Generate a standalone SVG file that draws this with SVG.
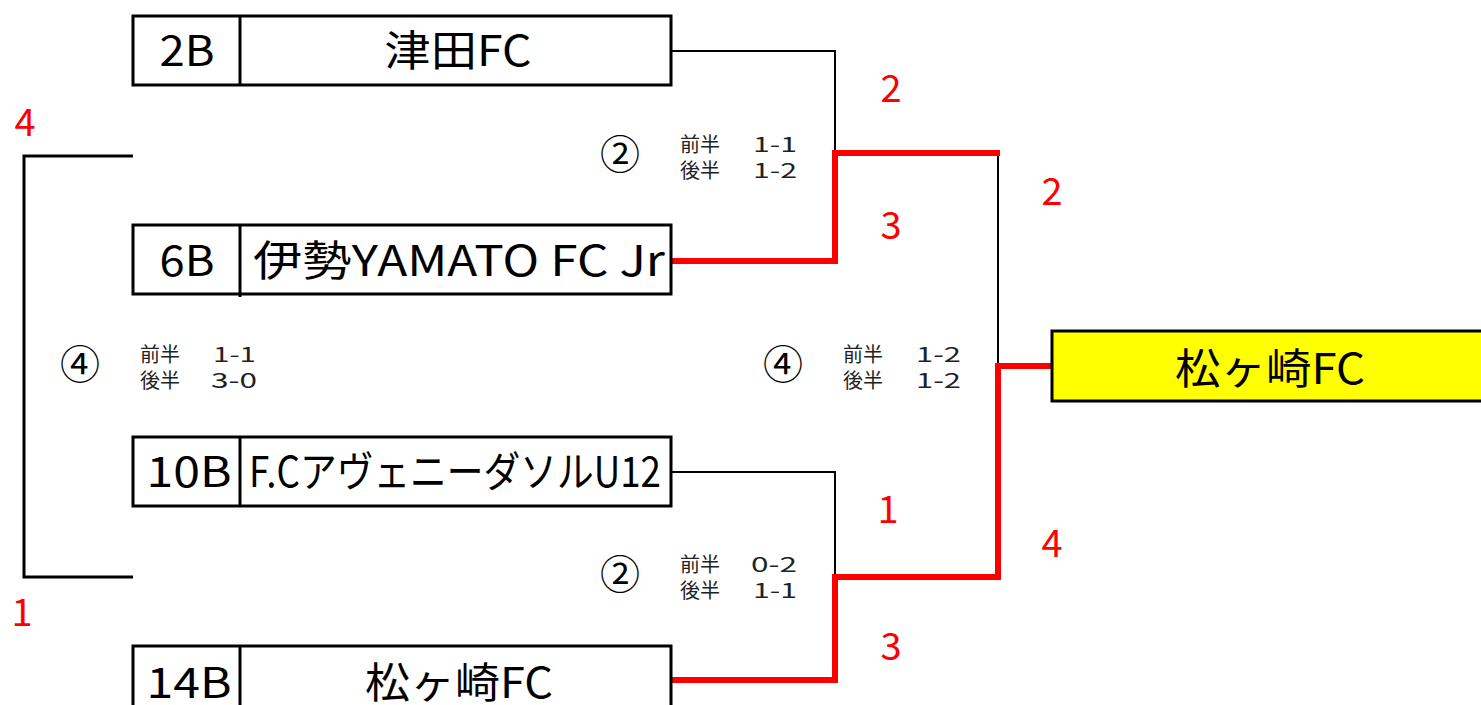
<svg xmlns="http://www.w3.org/2000/svg" width="1481" height="705" viewBox="0 0 1481 705">
<style>
.box{fill:#fff;stroke:#000;stroke-width:3}
.fin{fill:#ffff00;stroke:#000;stroke-width:3}
.div{stroke:#000;stroke-width:3}
.t{font-family:"Noto Sans CJK JP","Noto Sans",sans-serif;font-size:42px;fill:#000;text-anchor:middle}
.sc{font-family:"Noto Sans CJK JP","Noto Sans",sans-serif;font-size:20px;fill:#222}
.rn{font-family:"Noto Sans CJK JP","Noto Sans",sans-serif;font-size:38px;fill:#ff0000;text-anchor:middle}
.cn{font-family:"Noto Sans CJK JP","Noto Sans",sans-serif;font-size:40px;fill:#000;text-anchor:middle}
.bl{fill:none;stroke:#000;stroke-width:2}
.bk{fill:none;stroke:#000;stroke-width:3}
.rd{fill:none;stroke:#ff0000;stroke-width:6}
</style>
<rect width="1481" height="705" fill="#fff"/>
<g id="connectors">
<polyline class="bl" points="671,51 835,51 835,153"/>
<polyline class="bl" points="835,153 998,153 998,366"/>
<polyline class="bl" points="671,472 835,472 835,577"/>
<polyline class="bk" points="133,156 24,156 24,577 133,577"/>
<polyline class="rd" points="671,261 835,261 835,153 1000,153"/>
<polyline class="rd" points="671,680 835,680 835,577 998,577 998,366 1052,366"/>
</g>
<g id="node-2B">
<rect class="box" x="133" y="16" width="538" height="69"/>
<line class="div" x1="240" y1="16" x2="240" y2="85"/>
<text class="t" x="187" y="66" textLength="55" lengthAdjust="spacingAndGlyphs">2B</text>
<text class="t" x="458" y="66" textLength="147" lengthAdjust="spacingAndGlyphs">津田FC</text>
</g>
<g id="node-6B">
<rect class="box" x="133" y="225" width="538" height="69"/>
<line class="div" x1="240" y1="225" x2="240" y2="297"/>
<text class="t" x="187" y="276" textLength="55" lengthAdjust="spacingAndGlyphs">6B</text>
<text class="t" x="459" y="276" textLength="412" lengthAdjust="spacingAndGlyphs">伊勢YAMATO FC Jr</text>
</g>
<g id="node-10B">
<rect class="box" x="133" y="437" width="538" height="69"/>
<line class="div" x1="240" y1="437" x2="240" y2="506"/>
<text class="t" x="189" y="487" textLength="85" lengthAdjust="spacingAndGlyphs">10B</text>
<text class="t" x="455" y="487" textLength="412" lengthAdjust="spacingAndGlyphs">F.CアヴェニーダソルU12</text>
</g>
<g id="node-14B">
<rect class="box" x="133" y="646" width="538" height="69"/>
<line class="div" x1="240" y1="646" x2="240" y2="715"/>
<text class="t" x="189" y="698" textLength="85" lengthAdjust="spacingAndGlyphs">14B</text>
<text class="t" x="459" y="698" textLength="188" lengthAdjust="spacingAndGlyphs">松ヶ崎FC</text>
</g>
<g id="node-final">
<rect class="fin" x="1052" y="331" width="440" height="70"/>
<text class="t" x="1270" y="384" textLength="190" lengthAdjust="spacingAndGlyphs">松ヶ崎FC</text>
</g>
<g id="labels">
<text class="rn" x="25" y="136">4</text>
<text class="rn" x="22" y="626">1</text>
<text class="rn" x="891" y="102">2</text>
<text class="rn" x="891" y="239">3</text>
<text class="rn" x="1052" y="205">2</text>
<text class="rn" x="888" y="523">1</text>
<text class="rn" x="1052" y="557">4</text>
<text class="rn" x="891" y="660">3</text>
<text class="cn" x="620" y="169">②</text>
<text class="cn" x="80" y="379">④</text>
<text class="cn" x="783" y="379">④</text>
<text class="cn" x="620" y="589">②</text>
<text class="sc" x="680" y="152">前半<tspan x="753" textLength="44" lengthAdjust="spacingAndGlyphs">1-1</tspan></text>
<text class="sc" x="680" y="178">後半<tspan x="753" textLength="44" lengthAdjust="spacingAndGlyphs">1-2</tspan></text>
<text class="sc" x="140" y="362">前半<tspan x="213" textLength="43" lengthAdjust="spacingAndGlyphs">1-1</tspan></text>
<text class="sc" x="140" y="388">後半<tspan x="211" textLength="46" lengthAdjust="spacingAndGlyphs">3-0</tspan></text>
<text class="sc" x="843" y="362">前半<tspan x="916" textLength="45" lengthAdjust="spacingAndGlyphs">1-2</tspan></text>
<text class="sc" x="843" y="388">後半<tspan x="916" textLength="45" lengthAdjust="spacingAndGlyphs">1-2</tspan></text>
<text class="sc" x="680" y="572">前半<tspan x="751" textLength="46" lengthAdjust="spacingAndGlyphs">0-2</tspan></text>
<text class="sc" x="680" y="598">後半<tspan x="753" textLength="44" lengthAdjust="spacingAndGlyphs">1-1</tspan></text>
</g>
</svg>
